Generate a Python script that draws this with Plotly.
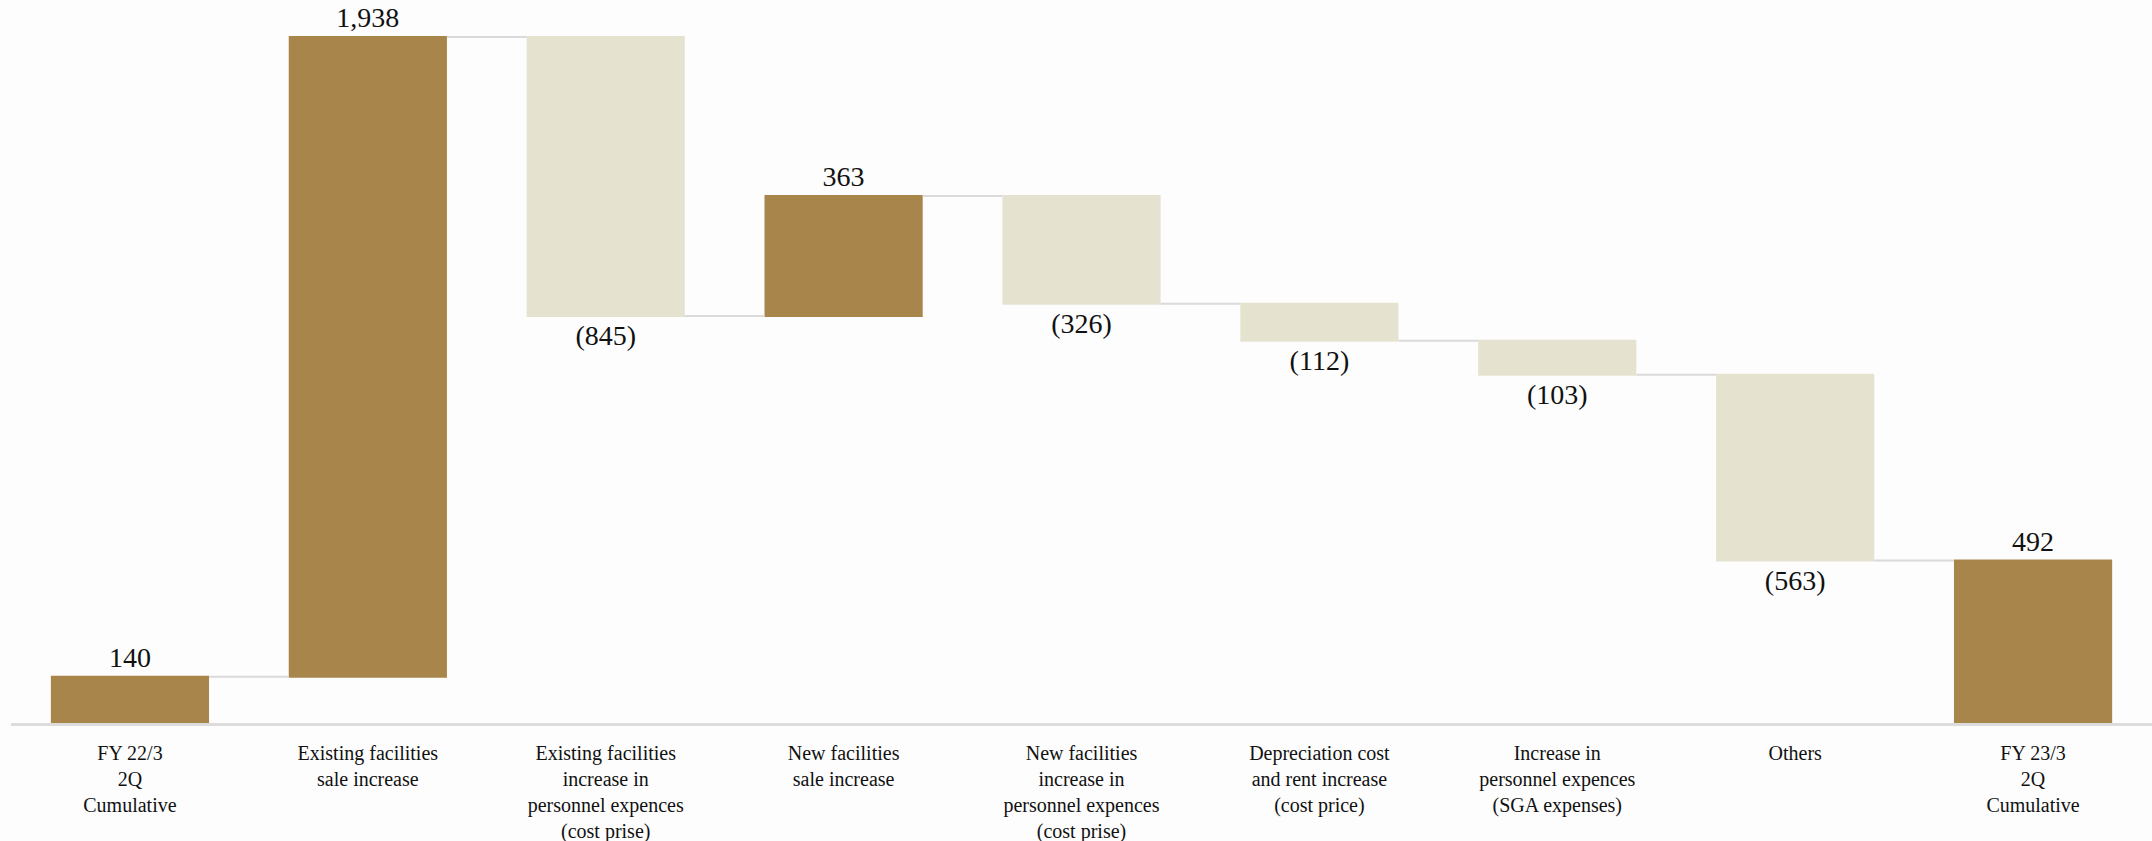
import plotly.graph_objects as go

categories = [
    "FY 22/3<br>2Q<br>Cumulative",
    "Existing facilities<br>sale increase",
    "Existing facilities<br>increase in<br>personnel expences<br>(cost prise)",
    "New facilities<br>sale increase",
    "New facilities<br>increase in<br>personnel expences<br>(cost prise)",
    "Depreciation cost<br>and rent increase<br>(cost price)",
    "Increase in<br>personnel expences<br>(SGA expenses)",
    "Others",
    "FY 23/3<br>2Q<br>Cumulative",
]
values = [140, 1938, -845, 363, -326, -112, -103, -563, 492]
measures = ["absolute", "relative", "relative", "relative", "relative",
            "relative", "relative", "relative", "total"]


def fmt(v):
    return f"({abs(v):,})" if v < 0 else f"{v:,}"


labels = [fmt(v) for v in values]

DARK = "#A8854A"
LIGHT = "#E5E3D0"
SERIF = "Liberation Serif, Times New Roman, serif"

fig = go.Figure(go.Waterfall(
    x=list(range(len(categories))),
    y=values,
    measure=measures,
    text=labels,
    textposition="outside",
    textfont=dict(family=SERIF, size=28, color="#111111"),
    increasing=dict(marker=dict(color=DARK)),
    decreasing=dict(marker=dict(color=LIGHT)),
    totals=dict(marker=dict(color=DARK)),
    connector=dict(line=dict(color="#DADADA", width=2)),
    cliponaxis=False,
    hoverinfo="skip",
))

fig.update_layout(
    width=2152, height=841,
    margin=dict(l=11, r=0, t=0, b=118),
    paper_bgcolor="#FDFDFD",
    plot_bgcolor="#FDFDFD",
    waterfallgap=0.335,
    showlegend=False,
    font=dict(family=SERIF, size=20, color="#111111"),
)
fig.update_xaxes(
    tickmode="array",
    tickvals=list(range(len(categories))),
    ticktext=categories,
    range=[-0.5, len(categories) - 0.5],
    automargin=False,
    showline=True, linecolor="#DCDCDC", linewidth=3,
    ticks="outside", ticklen=10, tickcolor="rgba(0,0,0,0)",
    showgrid=False, zeroline=False,
    tickfont=dict(family=SERIF, size=20, color="#111111"),
)
fig.update_yaxes(
    range=[0, 2190],
    automargin=False,
    showgrid=False, zeroline=False, showticklabels=False,
)

fig.write_html("out.html")
